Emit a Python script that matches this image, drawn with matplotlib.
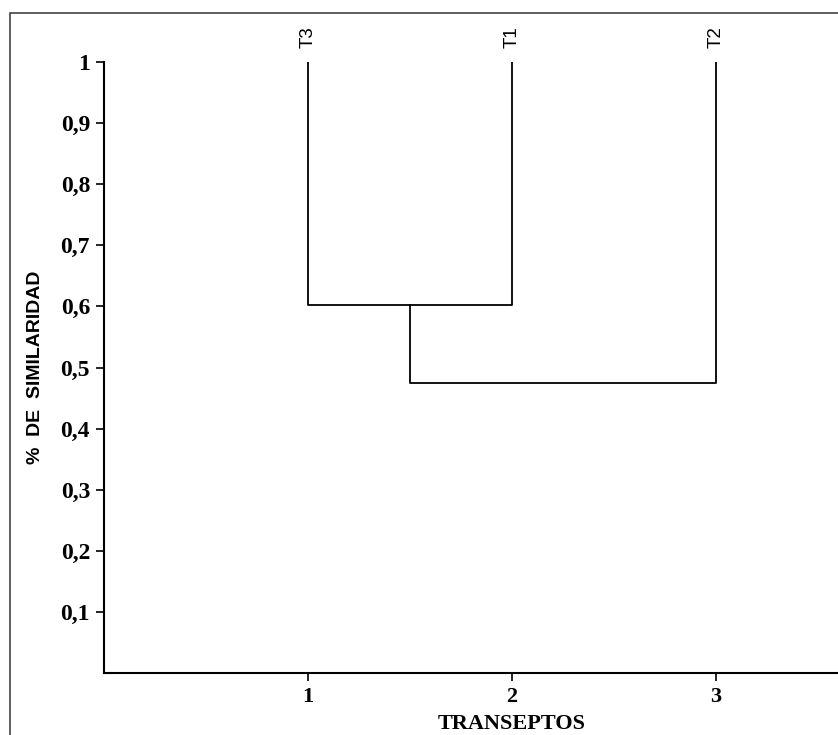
import matplotlib
matplotlib.use("Agg")
import matplotlib.pyplot as plt
from matplotlib.patches import Rectangle

# Data
leaves = ["T3", "T1", "T2"]
leaf_pos = [1, 2, 3]
leaf_height = 1.0
merge1 = 0.602   # T3 + T1
merge2 = 0.475   # (T3,T1) + T2
yticks = [0.1, 0.2, 0.3, 0.4, 0.5, 0.6, 0.7, 0.8, 0.9, 1.0]
ytick_labels = ["0,1", "0,2", "0,3", "0,4", "0,5", "0,6", "0,7", "0,8", "0,9", "1"]
xticks = [1, 2, 3]
xtick_labels = ["1", "2", "3"]

W, H = 838, 735
fig = plt.figure(figsize=(W / 100, H / 100), dpi=100)

# outer frame
fig.patches.append(Rectangle((10 / W, -0.05), 1.2, 1 - 13 / H + 0.05,
                             transform=fig.transFigure, fill=False,
                             edgecolor="#444444", linewidth=1.2))

left = 104 / W
right = 920 / W
bottom = 1 - 673 / H
top = 1 - 62 / H
ax = fig.add_axes([left, bottom, right - left, top - bottom])
ax.set_xlim(0, 4)
ax.set_ylim(0, 1)

lw = 1.3
c = "black"
p1, p2, p3 = leaf_pos
mid = (p1 + p2) / 2
ax.plot([p1, p1, p2, p2], [leaf_height, merge1, merge1, leaf_height], color=c, lw=lw)
ax.plot([mid, mid, p3, p3], [merge1, merge2, merge2, leaf_height], color=c, lw=lw)

for name, x in zip(leaves, leaf_pos):
    ax.annotate(name, (x, leaf_height), xytext=(0, 10), textcoords="offset points",
                rotation=90, ha="center", va="bottom", fontsize=13.5,
                family="Liberation Sans", annotation_clip=False)

for s in ["top", "right"]:
    ax.spines[s].set_visible(False)
for s in ["left", "bottom"]:
    ax.spines[s].set_linewidth(1.5)

ax.set_yticks(yticks)
ax.set_yticklabels(ytick_labels, family="Liberation Serif", fontweight="bold", fontsize=17)
ax.set_xticks(xticks)
ax.set_xticklabels(xtick_labels, family="Liberation Serif", fontweight="bold", fontsize=16)
ax.tick_params(axis="both", direction="out", length=6, width=1.2, pad=4)

ax.set_ylabel("%  DE  SIMILARIDAD", family="Liberation Sans", fontweight="bold",
              fontsize=14, labelpad=12)
ax.set_xlabel("TRANSEPTOS", family="Liberation Serif", fontweight="bold",
              fontsize=16, labelpad=5)

fig.savefig("out.png", dpi=100)
